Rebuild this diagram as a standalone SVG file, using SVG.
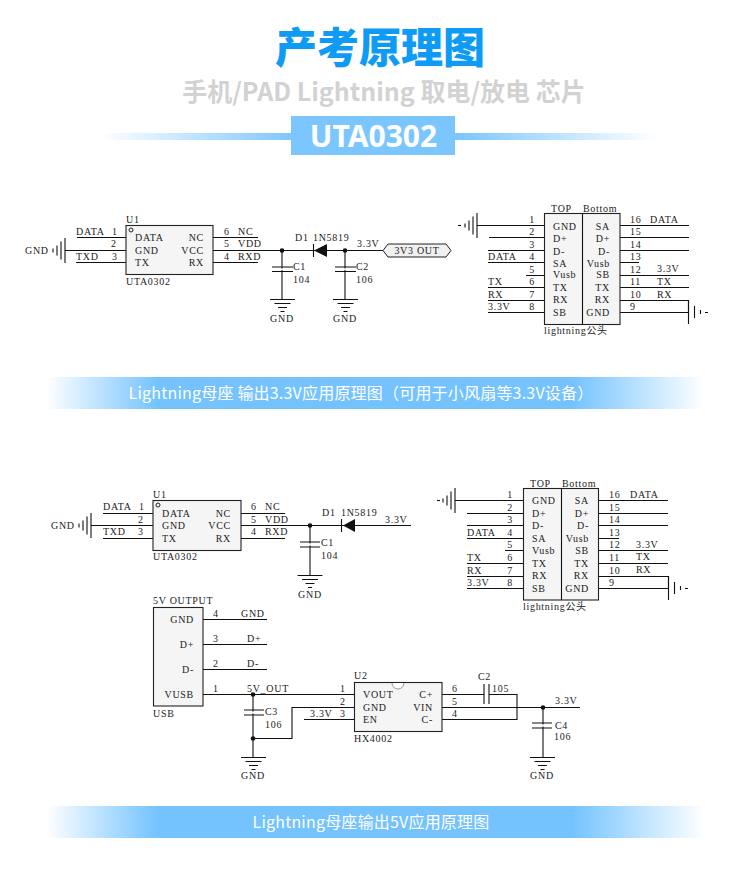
<svg xmlns="http://www.w3.org/2000/svg" xmlns:xlink="http://www.w3.org/1999/xlink" width="750" height="880" viewBox="0 0 750 880">
<style>
text{font-family:"Liberation Serif","Noto Sans CJK SC",serif;font-size:10px;fill:#222;letter-spacing:.7px}
.m{text-anchor:middle}.e{text-anchor:end}
.w{fill:none;stroke:#111;stroke-width:1.1}
.b{fill:#f5f5f5;stroke:#222;stroke-width:1.1}
.d{fill:#111}
.h{font-family:"Noto Sans CJK SC",sans-serif;letter-spacing:0;text-anchor:middle}
.bt{font-family:"Noto Sans CJK SC",sans-serif;font-size:16px;fill:#fff;letter-spacing:.2px;text-anchor:middle}
</style>
<defs>
<linearGradient id="g1"><stop offset="0" stop-color="#74c3ff" stop-opacity="0"/><stop offset=".17" stop-color="#74c3ff"/><stop offset=".8" stop-color="#74c3ff"/><stop offset="1" stop-color="#74c3ff" stop-opacity="0"/></linearGradient>
<linearGradient id="g2"><stop offset="0" stop-color="#7cc6ff" stop-opacity="0"/><stop offset=".35" stop-color="#7cc6ff"/><stop offset=".65" stop-color="#7cc6ff"/><stop offset="1" stop-color="#7cc6ff" stop-opacity="0"/></linearGradient>
<g id="gd" class="w"><path d="M-12.500 0H12.500M-8 4H8M-4.500 8H4.500M-2 12H2"/></g>
<g id="gl" class="w"><path d="M0-12.500V12.500M-4-9V9M-8-5V5M-12-2V2"/></g>
<g id="gr" class="w"><path d="M.5-12V12M6.500-6V6M12.500-2V2M17 .5H20"/></g>
</defs>

<g id="header">
<text class="h" x="380" y="63" style="font-size:42px;font-weight:900;fill:#0d9bf6">产考原理图</text>
<text class="h" x="384" y="101" style="font-size:25px;font-weight:700;fill:#d2d2d2">手机/PAD Lightning 取电/放电 芯片</text>
<rect x="100" y="133" width="555" height="7" fill="url(#g2)"/>
<rect x="291" y="116" width="164" height="39" fill="#7cc6ff"/>
<text class="h" x="373.500" y="147" style="font-family:'Noto Sans',sans-serif;font-size:30px;font-weight:700;fill:#fff">UTA0302</text>
</g>

<g id="connectors">
<!-- schematic 1 -->
<path class="w" d="M77 237.500H126M65 250.500H126M76 262.500H126M213 237.500H258M213 250.500H383M213 262.500H258"/>
<path class="w" d="M282 250.500V299M282 271V299M345 250.500V299"/>
<path class="w" d="M272 267H293M272 271.500H293M335 267H356M335 271.500H356"/>
<path class="w" style="stroke:#fff;stroke-width:3" d="M282 268.500V270M345 268.500V270"/>
<path class="w" d="M477 225.500H544M489 237.500H544M488 250.500H544M488 262.500H544M526 275.500H544M488 287.500H544M488 300.500H544M488 312.500H544"/>
<path class="w" d="M620 225.500H689M620 237.500H689M620 250.500H689M620 262.500H639M620 275.500H689M620 287.500H689M620 300.500H688.500V312.500H620"/>
<!-- schematic 2 -->
<path class="w" d="M103 513.500H153M91 525.500H153M103 538.500H153M241 513.500H285M241 525.500H411M241 538.500H285"/>
<path class="w" d="M310 525.500V575"/>
<path class="w" d="M300 542H320M300 547H320"/>
<path class="w" style="stroke:#fff;stroke-width:3" d="M310 543.500V545.500"/>
<path class="w" d="M455 500.500H523M467 513.500H523M467 525.500H523M467 538.500H523M505 550.500H523M467 563.500H523M467 576.500H523M467 588.500H523"/>
<path class="w" d="M598 500.500H668M598 513.500H668M598 525.500H668M598 538.500H619M598 550.500H668M598 563.500H668M598 576.500H668.500V588.500H598"/>
<path class="w" d="M203 619.500H267M203 644.500H267M203 669.500H267M203 694.500H354"/>
<path class="w" d="M253 694.500V757M244 710H264M244 715H264"/>
<path class="w" style="stroke:#fff;stroke-width:3" d="M253 711.500V713.500"/>
<path class="w" d="M253 738.500H292V707.500H354M304 719.500H354"/>
<path class="w" d="M442 694.500H484M489 694.500H517V719.500H442M442 707.500H580M543 707.500V757"/>
<path class="w" d="M484 684V704M489 684V704M532 723H552M532 728H552"/>
<path class="w" style="stroke:#fff;stroke-width:3" d="M543 724.500V726.500"/>
<circle class="d" cx="282" cy="250.500" r="2.300"/><circle class="d" cx="345" cy="250.500" r="2.300"/>
<circle class="d" cx="310" cy="525.500" r="2.300"/><circle class="d" cx="253" cy="694.500" r="2.300"/>
<circle class="d" cx="253" cy="738.500" r="2.300"/><circle class="d" cx="543" cy="707.500" r="2.300"/>
</g>

<g id="u1a">
<rect class="b" x="126" y="225.500" width="87" height="49"/>
<circle cx="131" cy="230" r="2" fill="none" stroke="#222"/>
<text x="126" y="223">U1</text><text x="126" y="285">UTA0302</text>
<text x="135" y="241">DATA</text><text x="135" y="254">GND</text><text x="135" y="266">TX</text>
<text class="e" x="204" y="241">NC</text><text class="e" x="204" y="254">VCC</text><text class="e" x="204" y="266">RX</text>
<text x="76" y="235">DATA</text><text x="112" y="235">1</text><text x="111" y="247">2</text><text x="76" y="260">TXD</text><text x="112" y="260">3</text>
<text x="224" y="235">6</text><text x="238" y="235">NC</text><text x="224" y="247">5</text><text x="238" y="247">VDD</text><text x="224" y="260">4</text><text x="238" y="260">RXD</text>
</g>
<g id="gnd1"><text x="25" y="254">GND</text><use href="#gl" x="65" y="250.500"/></g>
<g id="d1a"><path class="d" d="M327 244V257L314 250.500Z"/><path class="w" d="M313.500 244V257"/><text x="295" y="241">D1</text><text x="313" y="241">1N5819</text><text x="357" y="247">3.3V</text></g>
<g id="c1a"><text x="293" y="270">C1</text><text x="293" y="283">104</text><use href="#gd" x="282.500" y="299.500"/><text class="m" x="282" y="322">GND</text></g>
<g id="c2a"><text x="356" y="270">C2</text><text x="356" y="283">106</text><use href="#gd" x="345.500" y="299.500"/><text class="m" x="345" y="322">GND</text></g>
<g id="out1"><path d="M383 250.500L388 244H446L451 250.500L446 257H388Z" fill="#f0f0f0" stroke="#222"/><text class="m" x="417" y="254">3V3 OUT</text></g>

<g id="lightning1">
<rect class="b" x="544.500" y="213.500" width="75.500" height="111"/><path class="w" d="M582.500 213.500V324.500"/>
<text x="551" y="212">TOP</text><text x="583" y="212">Bottom</text><text x="544" y="334">lightning公头</text>
<use href="#gl" x="477" y="225.500"/><path class="w" d="M458 225.500H461"/>
<use href="#gr" x="688" y="312"/>
<g class="m"><text x="532" y="223">1</text><text x="532" y="235">2</text><text x="532" y="248">3</text><text x="532" y="260">4</text><text x="532" y="273">5</text><text x="532" y="285">6</text><text x="532" y="298">7</text><text x="532" y="310">8</text></g>
<text x="488" y="260">DATA</text><text x="488" y="285">TX</text><text x="488" y="298">RX</text><text x="488" y="310">3.3V</text>
<text x="553" y="230">GND</text><text x="553" y="242">D+</text><text x="553" y="255">D-</text><text x="553" y="267">SA</text><text x="553" y="278">Vusb</text><text x="553" y="291">TX</text><text x="553" y="303">RX</text><text x="553" y="316">SB</text>
<text class="e" x="610" y="230">SA</text><text class="e" x="610" y="242">D+</text><text class="e" x="610" y="255">D-</text><text class="e" x="610" y="267">Vusb</text><text class="e" x="610" y="278">SB</text><text class="e" x="610" y="291">TX</text><text class="e" x="610" y="303">RX</text><text class="e" x="610" y="316">GND</text>
<text x="630" y="223">16</text><text x="630" y="235">15</text><text x="630" y="248">14</text><text x="630" y="260">13</text><text x="630" y="273">12</text><text x="630" y="285">11</text><text x="630" y="298">10</text><text x="630" y="310">9</text>
<text x="650" y="223">DATA</text><text x="657" y="272">3.3V</text><text x="657" y="285">TX</text><text x="657" y="298">RX</text>
</g>

<g id="band1"><rect x="46" y="377" width="658" height="32" fill="url(#g1)"/><text class="bt" x="361" y="399">Lightning母座 输出3.3V应用原理图（可用于小风扇等3.3V设备）</text></g>

<g id="u1b">
<rect class="b" x="153" y="500.500" width="88" height="50"/>
<circle cx="158" cy="505" r="2" fill="none" stroke="#222"/>
<text x="153" y="498">U1</text><text x="153" y="560">UTA0302</text>
<text x="162" y="517">DATA</text><text x="162" y="529">GND</text><text x="162" y="542">TX</text>
<text class="e" x="231" y="517">NC</text><text class="e" x="231" y="529">VCC</text><text class="e" x="231" y="542">RX</text>
<text x="103" y="510">DATA</text><text x="139" y="510">1</text><text x="138" y="523">2</text><text x="103" y="535">TXD</text><text x="138" y="535">3</text>
<text x="251" y="510">6</text><text x="265" y="510">NC</text><text x="251" y="523">5</text><text x="265" y="523">VDD</text><text x="251" y="535">4</text><text x="265" y="535">RXD</text>
</g>
<g id="gnd2"><text x="51" y="529">GND</text><use href="#gl" x="91" y="525.500"/></g>
<g id="d1b"><path class="d" d="M355 519V532L343 525.500Z"/><path class="w" d="M341.500 519V532"/><text x="322" y="516">D1</text><text x="341" y="516">1N5819</text><text x="385" y="523">3.3V</text></g>
<g id="c1b"><text x="321" y="546">C1</text><text x="321" y="559">104</text><use href="#gd" x="310" y="575.500"/><text class="m" x="310" y="598">GND</text></g>

<g id="lightning2">
<rect class="b" x="523.500" y="488.500" width="75" height="111.500"/><path class="w" d="M561.500 488.500V600"/>
<text x="530" y="487">TOP</text><text x="562" y="487">Bottom</text><text x="523" y="610">lightning公头</text>
<use href="#gl" x="455" y="500.500"/><path class="w" d="M437 500.500H440"/>
<use href="#gr" x="668" y="588"/>
<g class="m"><text x="510" y="498">1</text><text x="510" y="511">2</text><text x="510" y="523">3</text><text x="510" y="536">4</text><text x="510" y="548">5</text><text x="510" y="561">6</text><text x="510" y="574">7</text><text x="510" y="586">8</text></g>
<text x="467" y="536">DATA</text><text x="467" y="561">TX</text><text x="467" y="574">RX</text><text x="467" y="586">3.3V</text>
<text x="532" y="504">GND</text><text x="532" y="517">D+</text><text x="532" y="529">D-</text><text x="532" y="542">SA</text><text x="532" y="554">Vusb</text><text x="532" y="567">TX</text><text x="532" y="579">RX</text><text x="532" y="592">SB</text>
<text class="e" x="589" y="504">SA</text><text class="e" x="589" y="517">D+</text><text class="e" x="589" y="529">D-</text><text class="e" x="589" y="542">Vusb</text><text class="e" x="589" y="554">SB</text><text class="e" x="589" y="567">TX</text><text class="e" x="589" y="579">RX</text><text class="e" x="589" y="592">GND</text>
<text x="609" y="498">16</text><text x="609" y="511">15</text><text x="609" y="523">14</text><text x="609" y="536">13</text><text x="609" y="548">12</text><text x="609" y="561">11</text><text x="609" y="574">10</text><text x="609" y="586">9</text>
<text x="630" y="498">DATA</text><text x="636" y="548">3.3V</text><text x="636" y="560">TX</text><text x="636" y="573">RX</text>
</g>

<g id="usb">
<rect class="b" x="153.500" y="607.500" width="49.500" height="98.500"/>
<text x="153" y="604">5V OUTPUT</text><text x="153" y="717">USB</text>
<text class="e" x="194" y="623">GND</text><text class="e" x="194" y="648">D+</text><text class="e" x="194" y="673">D-</text><text class="e" x="194" y="698">VUSB</text>
<text x="213" y="617">4</text><text x="213" y="642">3</text><text x="213" y="667">2</text><text x="213" y="692">1</text>
<text x="241" y="617">GND</text><text x="247" y="642">D+</text><text x="247" y="667">D-</text><text x="247" y="692">5V_OUT</text>
</g>
<g id="c3"><text x="265" y="715">C3</text><text x="265" y="728">106</text><use href="#gd" x="253.500" y="757.500"/><text class="m" x="253" y="779">GND</text></g>
<g id="u2">
<rect class="b" x="354.500" y="682.500" width="87.500" height="49"/>
<path d="M392 683A6 6 0 0 0 404 683" fill="#fff" stroke="#999"/>
<text x="354" y="679">U2</text><text x="354" y="742">HX4002</text>
<text x="363" y="698">VOUT</text><text x="363" y="711">GND</text><text x="363" y="723">EN</text>
<text class="e" x="433" y="698">C+</text><text class="e" x="433" y="711">VIN</text><text class="e" x="433" y="723">C-</text>
<text x="340" y="692">1</text><text x="340" y="705">2</text><text x="340" y="717">3</text><text x="310" y="717">3.3V</text>
<text x="452" y="692">6</text><text x="452" y="705">5</text><text x="452" y="717">4</text>
</g>
<g id="c2b"><text x="478" y="680">C2</text><text x="492" y="692">105</text></g>
<g id="c4"><text x="555" y="729">C4</text><text x="554" y="740">106</text><use href="#gd" x="542.500" y="757.500"/><text class="m" x="542" y="779">GND</text><text x="555" y="704">3.3V</text></g>

<g id="band2"><rect x="46" y="806" width="658" height="32" fill="url(#g1)"/><text class="bt" x="371" y="828">Lightning母座输出5V应用原理图</text></g>
</svg>
